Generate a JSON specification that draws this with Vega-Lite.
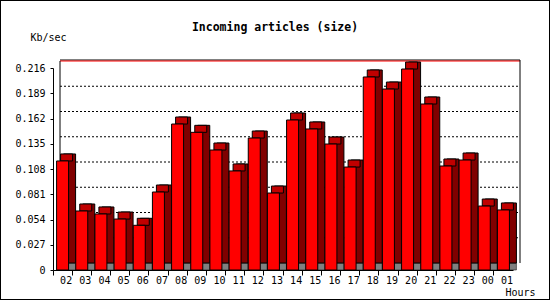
{
  "$schema": "https://vega.github.io/schema/vega-lite/v6.json",
  "width": 550,
  "height": 300,
  "autosize": {"type": "none"},
  "padding": 0,
  "background": "white",
  "title": {
    "text": "Incoming articles (size)",
    "orient": "top",
    "anchor": "middle",
    "frame": "group",
    "offset": -42,
    "baseline": "alphabetic",
    "font": "DejaVu Sans Mono",
    "fontSize": 11.5,
    "fontWeight": "bold",
    "color": "black"
  },
  "config": {
    "view": {"stroke": "black", "strokeWidth": 2},
    "font": "DejaVu Sans Mono",
    "axis": {"labelOverlap": false}
  },
  "datasets": {
    "bars": [
      {"hour": "02", "kbps": 0.1166},
      {"hour": "03", "kbps": 0.0631},
      {"hour": "04", "kbps": 0.0599},
      {"hour": "05", "kbps": 0.0545},
      {"hour": "06", "kbps": 0.0478},
      {"hour": "07", "kbps": 0.0834},
      {"hour": "08", "kbps": 0.1561},
      {"hour": "09", "kbps": 0.1472},
      {"hour": "10", "kbps": 0.1283},
      {"hour": "11", "kbps": 0.1059},
      {"hour": "12", "kbps": 0.1411},
      {"hour": "13", "kbps": 0.0823},
      {"hour": "14", "kbps": 0.1604},
      {"hour": "15", "kbps": 0.1508},
      {"hour": "16", "kbps": 0.1347},
      {"hour": "17", "kbps": 0.1101},
      {"hour": "18", "kbps": 0.2064},
      {"hour": "19", "kbps": 0.1935},
      {"hour": "20", "kbps": 0.2149},
      {"hour": "21", "kbps": 0.1775},
      {"hour": "22", "kbps": 0.1112},
      {"hour": "23", "kbps": 0.1176},
      {"hour": "00", "kbps": 0.0684},
      {"hour": "01", "kbps": 0.0642}
    ],
    "grid": [
      {"v": 0.027}, {"v": 0.054}, {"v": 0.081}, {"v": 0.108},
      {"v": 0.135}, {"v": 0.162}, {"v": 0.189}
    ],
    "one": [{"k": 1}]
  },
  "layer": [
    {
      "data": {"name": "grid"},
      "mark": {"type": "rule", "color": "black", "strokeWidth": 1, "strokeDash": [2, 2], "xOffset": 7, "x2Offset": 7, "yOffset": -7, "y2Offset": -7},
      "encoding": {
        "x": {"datum": "02", "type": "nominal", "bandPosition": 0},
        "x2": {"datum": "01", "bandPosition": 1},
        "y": {"field": "v", "type": "quantitative"}
      }
    },
    {
      "data": {"name": "one"},
      "mark": {"type": "rule", "color": "black", "strokeWidth": 1, "xOffset": 7, "x2Offset": 7, "yOffset": -8, "y2Offset": -8},
      "encoding": {
        "x": {"datum": "02", "type": "nominal", "bandPosition": 0},
        "x2": {"datum": "01", "bandPosition": 1},
        "y": {"datum": 0.216, "type": "quantitative"}
      }
    },
    {
      "data": {"name": "one"},
      "mark": {"type": "rule", "color": "#ff0000", "strokeWidth": 1, "xOffset": 7, "x2Offset": 7, "yOffset": -7, "y2Offset": -7},
      "encoding": {
        "x": {"datum": "02", "type": "nominal", "bandPosition": 0},
        "x2": {"datum": "01", "bandPosition": 1},
        "y": {"datum": 0.216, "type": "quantitative"}
      }
    },
    {
      "data": {"name": "one"},
      "mark": {"type": "rule", "color": "black", "strokeWidth": 1, "xOffset": 7, "yOffset": -8, "y2Offset": -7},
      "encoding": {
        "x": {"datum": "02", "type": "nominal", "bandPosition": 0},
        "y": {"datum": 0, "type": "quantitative"},
        "y2": {"datum": 0.216}
      }
    },
    {
      "data": {"name": "one"},
      "mark": {"type": "rule", "color": "black", "strokeWidth": 1, "xOffset": 7, "yOffset": -7, "y2Offset": -8},
      "encoding": {
        "x": {"datum": "01", "type": "nominal", "bandPosition": 1},
        "y": {"datum": 0, "type": "quantitative"},
        "y2": {"datum": 0.216}
      }
    },
    {
      "data": {"name": "bars"},
      "mark": {"type": "bar", "size": 12, "fill": "#808080", "stroke": "black", "strokeWidth": 0.5, "xOffset": 7, "x2Offset": 7, "yOffset": -7, "y2Offset": 0},
      "encoding": {
        "x": {"field": "hour", "type": "nominal", "sort": null},
        "y": {"datum": 0, "type": "quantitative"},
        "y2": {"datum": 0}
      }
    },
    {
      "data": {"name": "bars"},
      "mark": {"type": "bar", "size": 12, "fill": "#800000", "stroke": "black", "strokeWidth": 1, "xOffset": 7, "x2Offset": 7, "yOffset": -7, "y2Offset": -7},
      "encoding": {
        "x": {"field": "hour", "type": "nominal", "sort": null},
        "y": {"field": "kbps", "type": "quantitative"}
      }
    },
    {
      "data": {"name": "bars"},
      "mark": {"type": "bar", "size": 12, "fill": "#c00000", "stroke": "black", "strokeWidth": 1, "xOffset": 4, "x2Offset": 4, "yOffset": -7, "y2Offset": 0},
      "encoding": {
        "x": {"field": "hour", "type": "nominal", "sort": null},
        "y": {"field": "kbps", "type": "quantitative"},
        "y2": {"field": "kbps"}
      }
    },
    {
      "data": {"name": "bars"},
      "mark": {"type": "bar", "size": 12, "fill": "#ff0000", "stroke": "black", "strokeWidth": 1},
      "encoding": {
        "x": {
          "field": "hour",
          "type": "nominal",
          "sort": null,
          "scale": {
            "type": "band",
            "domain": ["02","03","04","05","06","07","08","09","10","11","12","13","14","15","16","17","18","19","20","21","22","23","00","01"],
            "range": [53, 513],
            "paddingInner": 0,
            "paddingOuter": 0
          },
          "axis": {
            "orient": "bottom",
            "offset": -30,
            "title": "Hours",
            "titleX": 505,
            "titleY": 22,
            "titleAlign": "left",
            "titleBaseline": "middle",
            "titleFont": "DejaVu Sans Mono",
            "titleFontSize": 10,
            "titleFontWeight": "normal",
            "titleColor": "black",
            "labelAngle": 0,
            "bandPosition": 0,
            "labelOffset": 9.58,
            "labelFont": "DejaVu Sans Mono",
            "labelFontSize": 10,
            "labelColor": "black",
            "labelBaseline": "middle",
            "labelPadding": 5,
            "labelOverlap": false,
            "tickSize": 5,
            "tickColor": "black",
            "domainColor": "black",
            "grid": false
          }
        },
        "y": {
          "field": "kbps",
          "type": "quantitative",
          "scale": {"domain": [0, 0.216], "range": [270, 68], "nice": false, "zero": true},
          "axis": {
            "orient": "left",
            "offset": -53,
            "values": [0, 0.027, 0.054, 0.081, 0.108, 0.135, 0.162, 0.189, 0.216],
            "tickCount": 20,
            "labelExpr": "datum.value == 0 ? '0' : format(datum.value, '.3f')",
            "labelOverlap": false,
            "title": "Kb/sec",
            "titleAngle": 0,
            "titleX": -23,
            "titleY": 37,
            "titleAlign": "left",
            "titleBaseline": "middle",
            "titleFont": "DejaVu Sans Mono",
            "titleFontSize": 10,
            "titleFontWeight": "normal",
            "titleColor": "black",
            "labelFont": "DejaVu Sans Mono",
            "labelFontSize": 10,
            "labelColor": "black",
            "labelPadding": 5,
            "tickSize": 3,
            "tickColor": "black",
            "domainColor": "black",
            "grid": false
          }
        }
      }
    }
  ]
}
